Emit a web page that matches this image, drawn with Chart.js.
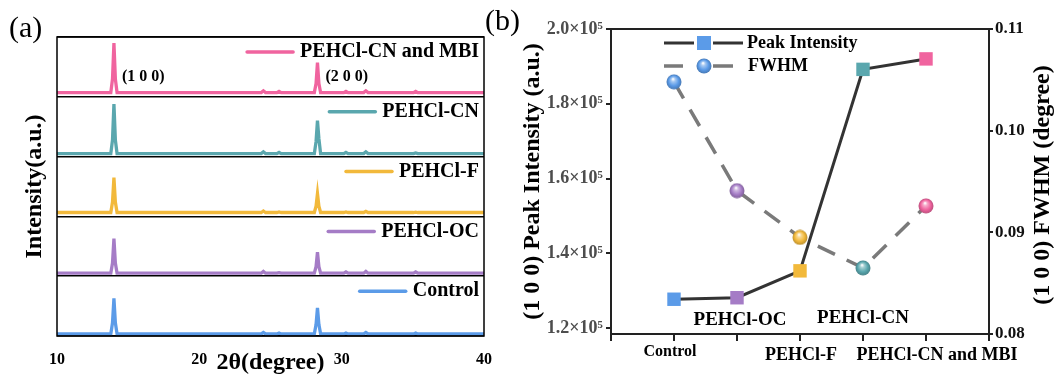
<!DOCTYPE html>
<html>
<head>
<meta charset="utf-8">
<script src="https://cdn.jsdelivr.net/npm/chart.js@4.4.1/dist/chart.umd.min.js"></script>
<style>
  html, body { margin: 0; padding: 0; background: #fff; }
  #wrap { position: relative; width: 1059px; height: 377px; }
  canvas { position: absolute; top: 0; }
  #xrd { left: 0; }
  #trend { left: 480px; }
</style>
</head>
<body>
<div id="wrap">
  <canvas id="xrd" width="500" height="377"></canvas>
  <canvas id="trend" width="579" height="377"></canvas>
</div>
<script>
const FONT = "'Liberation Serif', 'Times New Roman', serif";

// samples, bottom panel first
const samples = ["Control", "PEHCl-OC", "PEHCl-F", "PEHCl-CN", "PEHCl-CN and MBI"];
const sampleColors = ["#5b9be8", "#a57cc6", "#f2b93b", "#5aa7ae", "#f0649f"];

// 2θ sampling points of the XRD patterns
const twoTheta = [10, 13.78, 13.9, 14.0, 14.1, 14.22, 24.35, 24.5, 24.65, 25.45, 25.6, 25.75,
  28.08, 28.2, 28.3, 28.4, 28.52, 30.15, 30.3, 30.45, 31.55, 31.7, 31.85, 35.05, 35.2, 35.35, 40];

// normalised intensity (fraction of one panel)
const xrdControl = [0.035, 0.035, 0.22, 0.63, 0.22, 0.035, 0.035, 0.06, 0.035, 0.035, 0.05, 0.035,
  0.035, 0.19, 0.47, 0.19, 0.035, 0.035, 0.05, 0.035, 0.035, 0.06, 0.035, 0.035, 0.05, 0.035, 0.035];
const xrdOC = [0.05, 0.05, 0.22, 0.63, 0.22, 0.05, 0.05, 0.08, 0.05, 0.05, 0.06, 0.05,
  0.05, 0.16, 0.4, 0.16, 0.05, 0.05, 0.07, 0.05, 0.05, 0.08, 0.05, 0.05, 0.07, 0.05, 0.05];
const xrdF = [0.065, 0.065, 0.24, 0.65, 0.24, 0.065, 0.065, 0.09, 0.065, 0.065, 0.075, 0.065,
  0.065, 0.17, 0.38, 0.17, 0.065, 0.065, 0.075, 0.065, 0.065, 0.085, 0.065, 0.065, 0.07, 0.065, 0.065];
const xrdCN = [0.05, 0.05, 0.28, 0.88, 0.28, 0.05, 0.05, 0.08, 0.05, 0.05, 0.07, 0.05,
  0.05, 0.25, 0.6, 0.3, 0.05, 0.05, 0.07, 0.05, 0.05, 0.08, 0.05, 0.05, 0.06, 0.05, 0.05];
const xrdMBI = [0.07, 0.07, 0.3, 0.9, 0.3, 0.07, 0.07, 0.1, 0.07, 0.07, 0.09, 0.07,
  0.07, 0.22, 0.57, 0.22, 0.07, 0.07, 0.09, 0.07, 0.07, 0.1, 0.07, 0.07, 0.09, 0.07, 0.07];

const peakNames = ["(1 0 0)", "(2 0 0)"];
const peakAngles = [14.0, 28.3];

// (1 0 0) peak intensity and FWHM per sample
const peakIntensity = [127700, 128100, 135300, 189200, 192000];
const fwhm = [0.1048, 0.0941, 0.0895, 0.0865, 0.0926];
const intensityTicks = [120000, 140000, 160000, 180000, 200000];
const fwhmTicks = [0.08, 0.09, 0.10, 0.11];

function mix(hex, other, t) {
  const a = [1, 3, 5].map(i => parseInt(hex.substr(i, 2), 16));
  const b = [1, 3, 5].map(i => parseInt(other.substr(i, 2), 16));
  return 'rgb(' + a.map((v, i) => Math.round(v + (b[i] - v) * t)).join(',') + ')';
}

// shaded ball used as point style for FWHM
function sphere(color) {
  const c = document.createElement('canvas');
  c.width = c.height = 16;
  const g = c.getContext('2d');
  const grad = g.createRadialGradient(7, 5, 0.3, 8, 8, 7.5);
  grad.addColorStop(0, '#ffffff');
  grad.addColorStop(0.25, mix(color, '#ffffff', 0.45));
  grad.addColorStop(0.65, color);
  grad.addColorStop(1, mix(color, '#000000', 0.22));
  g.fillStyle = grad;
  g.beginPath();
  g.arc(8, 8, 7.5, 0, Math.PI * 2);
  g.fill();
  return c;
}
const spheres = sampleColors.map(sphere);

// ---------- (a) XRD patterns ----------
const xrdSeries = [xrdControl, xrdOC, xrdF, xrdCN, xrdMBI];
const xrdDatasets = xrdSeries.map((ys, i) => ({
  label: samples[i],
  data: twoTheta.map((t, k) => ({ x: t, y: i + ys[k] })),
  borderColor: sampleColors[i],
  borderWidth: 3.3,
  pointRadius: 0,
  tension: 0,
}));

const xrdDecor = {
  id: 'xrdDecor',
  afterDraw(chart) {
    const { ctx, chartArea: a, scales: { x, y } } = chart;
    ctx.save();
    ctx.strokeStyle = '#000';
    ctx.lineWidth = 1.5;
    ctx.strokeRect(a.left, a.top, a.right - a.left, a.bottom - a.top);

    // legend entry in the top-right of every panel
    ctx.font = `bold 20px ${FONT}`;
    ctx.textBaseline = 'middle';
    ctx.textAlign = 'left';
    ctx.lineCap = 'round';
    samples.forEach((name, i) => {
      const ty = y.getPixelForValue(i + 1) + 15;
      const tx = a.right - 5 - ctx.measureText(name).width;
      ctx.strokeStyle = sampleColors[i];
      ctx.lineWidth = 3.5;
      ctx.beginPath();
      ctx.moveTo(tx - 53, ty);
      ctx.lineTo(tx - 7, ty);
      ctx.stroke();
      ctx.fillStyle = '#000';
      ctx.fillText(name, tx, ty);
    });

    // reflection indices
    ctx.font = `bold 16px ${FONT}`;
    const ly = y.getPixelForValue(4) - 20;
    peakNames.forEach((n, i) => {
      ctx.fillText(n, x.getPixelForValue(peakAngles[i]) + 8, ly);
    });

    ctx.font = `30px ${FONT}`;
    ctx.fillText('(a)', 9, 29);
    ctx.restore();
  }
};

new Chart(document.getElementById('xrd'), {
  type: 'line',
  data: { datasets: xrdDatasets },
  options: {
    responsive: false,
    animation: false,
    devicePixelRatio: 1,
    layout: { padding: { top: 37, right: 16, left: 0, bottom: 0 } },
    plugins: { legend: { display: false }, tooltip: { enabled: false } },
    scales: {
      x: {
        type: 'linear', min: 10, max: 40,
        ticks: { stepSize: 10, color: '#000', padding: 6, maxRotation: 0,
          font: { family: FONT, size: 16, weight: 'bold' } },
        grid: { display: false },
        border: { display: false },
        title: { display: true, text: '2θ(degree)', color: '#000',
          font: { family: FONT, size: 24, weight: 'bold' }, padding: { top: 0, bottom: 0 } },
        afterFit(s) { s.height = 41; }
      },
      y: {
        min: 0, max: 5,
        ticks: { stepSize: 1, display: false },
        grid: { color: '#000', lineWidth: 1.5, drawTicks: false },
        border: { display: false },
        title: { display: true, text: 'Intensity(a.u.)', color: '#000',
          font: { family: FONT, size: 24, weight: 'bold' }, padding: { top: 20, bottom: 0 } },
        afterFit(s) { s.width = 57; }
      }
    }
  },
  plugins: [xrdDecor]
});

// ---------- (b) peak intensity and FWHM ----------
const catPos = samples.map((_, i) => i + 1);
// where each category name sits relative to its tick
const catLabelSpots = [
  { dx: -4, dy: 18, size: 16 },
  { dx: 3, dy: -14, size: 19 },
  { dx: 1, dy: 21, size: 18 },
  { dx: 0, dy: -16, size: 19 },
  { dx: 11, dy: 21, size: 18 },
];

const trendDecor = {
  id: 'trendDecor',
  afterDraw(chart) {
    const { ctx, chartArea: a, scales: { x } } = chart;
    ctx.save();
    ctx.strokeStyle = '#222';
    ctx.lineWidth = 2;
    ctx.strokeRect(a.left, a.top, a.right - a.left, a.bottom - a.top);

    ctx.fillStyle = '#000';
    ctx.textAlign = 'center';
    ctx.textBaseline = 'middle';
    samples.forEach((name, i) => {
      const s = catLabelSpots[i];
      ctx.font = `bold ${s.size}px ${FONT}`;
      ctx.fillText(name, x.getPixelForValue(catPos[i]) + s.dx, a.bottom + s.dy);
    });

    // legend
    const lx = a.left;
    const y1 = a.top + 14, y2 = a.top + 37;
    ctx.lineWidth = 3;
    ctx.strokeStyle = '#333';
    ctx.beginPath();
    ctx.moveTo(lx + 53, y1); ctx.lineTo(lx + 83, y1);
    ctx.moveTo(lx + 102, y1); ctx.lineTo(lx + 132, y1);
    ctx.stroke();
    ctx.fillStyle = sampleColors[0];
    ctx.fillRect(lx + 86, y1 - 7, 14, 14);
    ctx.strokeStyle = '#7a7a7a';
    ctx.lineWidth = 3.5;
    ctx.beginPath();
    ctx.moveTo(lx + 53, y2); ctx.lineTo(lx + 72, y2);
    ctx.moveTo(lx + 102, y2); ctx.lineTo(lx + 122, y2);
    ctx.stroke();
    ctx.drawImage(spheres[0], lx + 85, y2 - 8);
    ctx.fillStyle = '#000';
    ctx.textAlign = 'left';
    ctx.font = `bold 18px ${FONT}`;
    ctx.fillText('Peak Intensity', lx + 136, y1);
    ctx.fillText('FWHM', lx + 137, y2);

    // right axis title, reading upwards
    ctx.font = `bold 24px ${FONT}`;
    ctx.textAlign = 'center';
    ctx.translate(563, 185);
    ctx.rotate(-Math.PI / 2);
    ctx.fillText('(1 0 0) FWHM (degree)', 0, 0);
    ctx.restore();

    ctx.save();
    ctx.font = `30px ${FONT}`;
    ctx.fillStyle = '#000';
    ctx.textBaseline = 'middle';
    ctx.fillText('(b)', 5, 22);
    ctx.restore();
  }
};

new Chart(document.getElementById('trend'), {
  type: 'line',
  data: {
    datasets: [
      {
        label: 'Peak Intensity',
        yAxisID: 'yI',
        data: catPos.map((p, i) => ({ x: p, y: peakIntensity[i] })),
        borderColor: '#333',
        borderWidth: 3,
        pointStyle: 'rect',
        pointRadius: 9.5,
        pointBackgroundColor: sampleColors,
        pointBorderColor: sampleColors,
        pointBorderWidth: 0,
      },
      {
        label: 'FWHM',
        yAxisID: 'yF',
        data: catPos.map((p, i) => ({ x: p, y: fwhm[i] })),
        borderColor: '#7a7a7a',
        borderWidth: 3.5,
        borderDash: [19, 13],
        pointStyle: spheres,
        pointRadius: 7,
      }
    ]
  },
  options: {
    responsive: false,
    animation: false,
    devicePixelRatio: 1,
    layout: { padding: { top: 29, right: 0, left: 0, bottom: 0 } },
    plugins: { legend: { display: false }, tooltip: { enabled: false } },
    scales: {
      x: {
        type: 'linear', min: 0, max: 6,
        ticks: { stepSize: 1, display: false },
        grid: { drawOnChartArea: false, drawTicks: true, tickLength: 7, color: '#222', lineWidth: 2 },
        border: { color: '#222', width: 2 },
        afterFit(s) { s.height = 43; }
      },
      yI: {
        position: 'left', min: 118400, max: 200000,
        afterBuildTicks(s) { s.ticks = intensityTicks.map(v => ({ value: v })); },
        ticks: { color: '#4d4d4d', font: { family: FONT, size: 18, weight: 'bold' }, padding: 3,
          callback: v => (v / 1e5).toFixed(1) + '×10⁵' },
        grid: { drawOnChartArea: false, tickLength: 5, color: '#222', lineWidth: 2 },
        border: { color: '#222', width: 2 },
        title: { display: true, text: '(1 0 0) Peak Intensity (a.u.)', color: '#000',
          font: { family: FONT, size: 24, weight: 'bold' }, padding: { top: 38, bottom: 0 } },
        afterFit(s) { s.width = 131; }
      },
      yF: {
        position: 'right', min: 0.08, max: 0.11,
        afterBuildTicks(s) { s.ticks = fwhmTicks.map(v => ({ value: v })); },
        ticks: { color: '#111', font: { family: FONT, size: 17, weight: 'bold' }, padding: 2,
          callback: v => v.toFixed(2) },
        grid: { drawOnChartArea: false, tickLength: 4, color: '#222', lineWidth: 2 },
        border: { color: '#222', width: 2 },
        afterFit(s) { s.width = 70; }
      }
    }
  },
  plugins: [trendDecor]
});
</script>
</body>
</html>
